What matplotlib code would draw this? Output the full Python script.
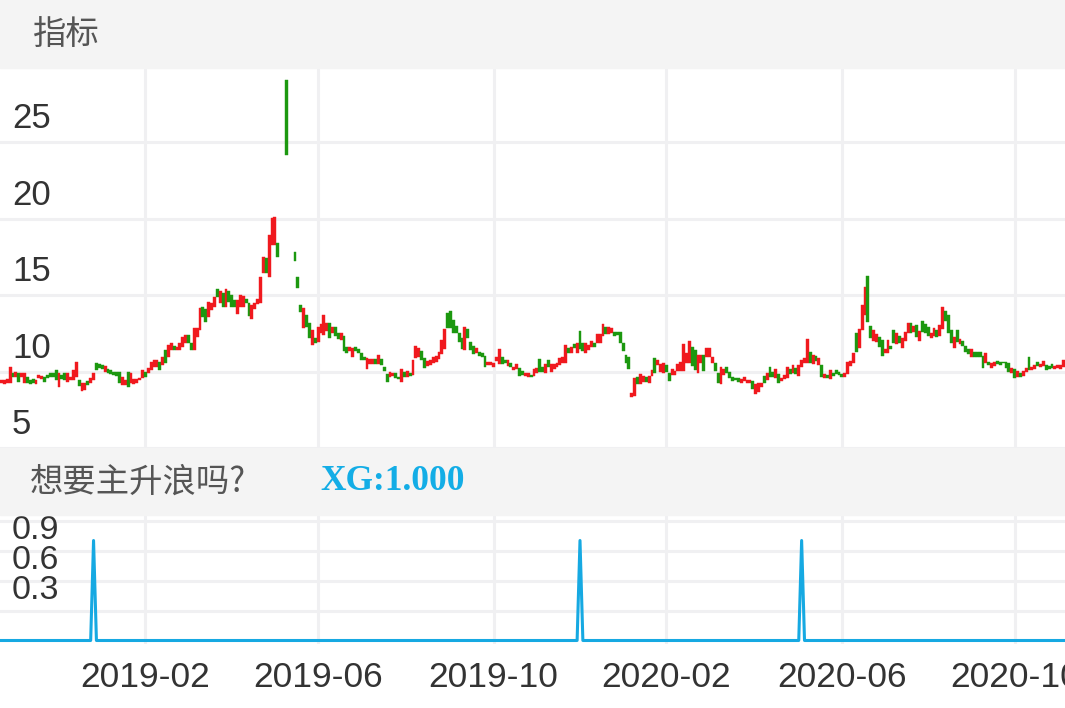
import numpy as np
import matplotlib
matplotlib.use("Agg")
import matplotlib.pyplot as plt
import matplotlib.transforms as mtransforms
from matplotlib.patches import Rectangle

# 日K线：开盘价 / 收盘价（None = 停牌）
opens = [
    9.23, 9.18, 9.23, 9.23, 9.92, 9.66, 9.88, 9.66, 9.27, 9.66,
    9.44, 9.49, 9.18, 9.55, 9.49, 9.66, 9.77, 9.88, 9.92, 10.10,
    9.01, 9.77, 9.88, 9.34, 9.44, 9.44, 9.66, 9.44, 8.75, 8.79,
    9.40, 9.23, 9.44, 10.53, 10.49, 10.42, 9.99, 10.14, 10.10, 9.99,
    9.99, 9.99, 9.12, 9.12, 9.99, 9.23, 9.18, 9.27, 9.44, 9.55,
    9.99, 9.88, 10.10, 10.32,
    10.28, 10.62, 10.42, 11.41, 10.95,
    11.41, 11.67, 11.41, 11.41, 11.62, 11.88, 12.39, 11.84, 11.41, 12.28,
    12.71, 14.19, 14.06, 13.54, 14.02, 14.24, 15.37, 14.46, 15.11, 14.24,
    15.24, 15.00, 14.67, 13.76, 14.24, 14.24, 14.72, 14.50, 13.41, 14.06,
    14.41, 14.50, 16.46, 17.40, 16.20, 18.27, 18.27, 18.38,
    None, None, 29.05, None, None,
    17.80, 16.18, 14.35, 12.82,
    13.69, 13.15, 11.73, 12.17, 11.95, 12.49, 12.39, 12.67, 13.15, 12.49,
    12.89, 12.49, 12.06, 12.32, 11.62, 11.36, 10.97, 11.58, 11.45, 11.19,
    10.97, 10.14, 10.49, 10.49, 10.80, 10.49, 10.80, 10.32, 9.84, 9.62,
    9.71, 9.88, 9.66, 9.34, 9.99, 9.62, 9.92, 9.77, 10.86, 10.93,
    11.36, 10.86, 10.36, 10.42, 10.53, 10.64, 10.80, 11.14, 11.45, 13.84,
    13.97, 13.37,
    12.97, 12.49, 12.17, 11.41, 12.76, 11.95, 11.67, 11.23, 11.30, 11.19,
    11.01, 10.42, 10.42, 10.32, 10.71, 10.49, 10.97, 10.75, 10.36, 10.53,
    10.10, 10.14, 10.21, 10.06, 9.71, 9.66, 9.80, 9.71, 9.92, 10.80,
    10.32, 9.92, 10.75, 9.99, 10.14, 10.27, 10.42, 10.58, 10.58, 11.51,
    11.23, 11.80, 11.23, 12.67, 11.88, 11.23, 11.41, 11.62, 11.88, 11.88,
    11.84, 12.32,
    12.93, 12.45, 12.54, 12.60, 12.60, 12.60, 11.84, 11.08, 10.93, 8.31,
    8.40, 9.62, 9.18, 9.34, 9.66, 9.27, 9.71, 10.86, 10.42, 9.99,
    9.88, 10.42, 9.88, 9.77, 9.77, 10.06, 10.06, 10.06, 10.58, 10.53,
    11.62, 11.40, 9.88, 10.53, 11.08, 10.93, 10.93, 10.58, 10.58, 9.88,
    9.18, 9.77, 10.27, 9.99, 9.62, 9.58, 9.55, 9.27, 9.40, 9.23,
    9.23, 9.40,
    8.53, 8.68, 9.01, 9.71, 9.44, 10.32, 9.99, 9.55, 9.84, 9.40,
    9.49, 9.55, 10.14, 9.88, 10.21, 9.71, 10.32, 10.53, 10.58, 11.30,
    10.49, 11.01, 10.42, 10.42, 9.55, 9.77, 9.49, 9.92, 10.10, 9.95,
    9.84, 9.66, 9.84, 10.36, 10.58, 12.49, 11.51, 12.71, 13.69, 16.24,
    12.97, 12.02, 11.95, 12.28, 12.06, 11.19, 11.19, 11.67, 12.71, 11.80,
    12.32, 11.51,
    12.02, 12.54, 13.15, 12.60, 13.04, 12.02, 13.32, 13.11, 12.89, 12.17,
    12.32, 12.71, 12.32, 12.76, 13.97, 13.69, 12.71, 11.51, 12.71, 11.80,
    12.02, 11.67, 11.45, 10.97, 11.30, 11.30, 11.30, 11.01, 10.53, 10.64,
    10.21, 10.36, 10.66, 10.60, 10.64, 10.64, 10.58, 9.88, 10.14, 9.62,
    9.92, 9.71, 9.99, 10.93, 10.10, 10.14, 10.64, 10.27, 10.36, 10.42,
    10.35, 10.49, 10.14, 10.21, 10.18, 10.32,
]
closes = [
    9.44, 9.44, 9.49, 10.27, 9.66, 9.99, 9.34, 9.88, 9.92, 9.23,
    9.18, 9.23, 9.44, 9.77, 9.70, 9.34, 9.55, 9.66, 9.66, 9.44,
    9.88, 9.49, 9.44, 9.92, 9.66, 10.10, 10.64, 9.05, 9.27, 9.23,
    9.12, 9.55, 9.88, 10.10, 10.21, 10.14, 10.36, 9.92, 9.84, 9.77,
    9.73, 9.23, 9.66, 9.44, 9.01, 9.88, 9.49, 9.49, 9.55, 10.10,
    9.66, 10.21, 10.64, 10.75,
    10.75, 10.10, 10.95, 10.55, 11.73,
    11.84, 11.41, 11.62, 11.88, 12.28, 12.39, 11.88, 11.41, 12.82, 12.82,
    14.13, 13.58, 13.26, 14.57, 14.50, 14.89, 14.85, 15.28, 14.19, 15.37,
    14.57, 14.24, 14.24, 14.67, 15.00, 14.94, 14.50, 13.63, 14.35, 14.46,
    14.72, 16.20, 17.46, 16.46, 18.92, 20.01, 20.12, 17.46,
    None, None, 24.15, None, None,
    17.20, 15.46, 13.90, 14.13,
    12.93, 12.17, 12.71, 11.84, 12.93, 13.11, 13.69, 13.19, 12.17, 12.89,
    12.32, 12.10, 12.49, 11.36, 11.23, 11.62, 11.51, 11.36, 11.19, 10.75,
    10.75, 10.86, 10.80, 10.80, 10.49, 11.08, 10.42, 10.06, 9.34, 9.99,
    9.92, 9.55, 9.49, 10.14, 9.66, 10.06, 9.71, 10.75, 11.67, 11.51,
    10.75, 10.21, 10.71, 10.75, 10.97, 11.01, 11.30, 12.06, 12.76, 12.82,
    12.82, 12.54,
    12.49, 11.95, 11.45, 12.89, 12.17, 11.41, 11.14, 11.51, 11.01, 10.93,
    10.27, 10.64, 10.64, 10.58, 10.93, 11.45, 10.49, 10.53, 10.75, 10.27,
    10.32, 10.49, 9.71, 9.77, 9.92, 9.92, 9.62, 10.14, 10.21, 9.99,
    9.99, 10.49, 10.27, 10.49, 10.49, 10.58, 10.86, 10.97, 11.73, 11.19,
    11.58, 11.51, 11.84, 11.45, 11.36, 11.84, 11.73, 12.02, 11.62, 12.45,
    12.45, 13.11,
    12.45, 12.93, 12.85, 12.32, 12.39, 11.84, 11.36, 10.58, 10.14, 8.62,
    9.55, 9.18, 9.84, 9.71, 9.34, 9.71, 10.10, 9.88, 10.75, 10.49,
    10.53, 9.99, 9.40, 10.14, 10.06, 10.49, 10.64, 11.80, 11.19, 12.01,
    10.36, 10.10, 11.08, 11.08, 10.06, 11.51, 11.51, 10.93, 10.06, 9.27,
    10.32, 10.14, 9.92, 9.55, 9.40, 9.45, 9.34, 9.49, 9.62, 9.44,
    9.44, 8.84,
    9.18, 9.23, 9.27, 9.23, 9.88, 9.62, 9.62, 10.14, 9.23, 9.55,
    9.77, 10.32, 9.84, 10.42, 9.84, 10.42, 10.75, 10.86, 12.10, 10.58,
    11.08, 10.71, 10.86, 9.66, 9.84, 9.55, 10.10, 9.71, 9.84, 9.75,
    9.66, 9.88, 10.64, 10.71, 11.23, 11.30, 12.76, 14.35, 15.50, 13.26,
    12.17, 12.71, 12.45, 11.62, 11.01, 11.45, 12.06, 11.45, 11.84, 12.49,
    11.84, 12.17,
    12.60, 13.19, 12.54, 12.97, 12.23, 12.67, 12.60, 12.54, 12.32, 12.54,
    12.82, 12.23, 13.04, 14.24, 13.32, 12.54, 11.84, 12.28, 11.95, 12.10,
    11.67, 11.30, 11.14, 11.45, 10.97, 10.93, 10.93, 10.21, 11.23, 10.42,
    10.58, 10.64, 10.49, 10.45, 10.53, 10.21, 9.99, 10.21, 9.55, 10.06,
    9.66, 10.06, 10.21, 10.10, 10.32, 10.42, 10.36, 10.49, 10.71, 10.10,
    10.15, 10.21, 10.36, 10.42, 10.40, 10.75,
]

# XG 信号出现的K线序号
xg_hits = [32, 201, 278]

tick_idx = [50, 110, 171, 231, 292, 352]
tick_labels = ['2019-02', '2019-06', '2019-10', '2020-02', '2020-06', '2020-10']
main_ticks = [5, 10, 15, 20, 25]
sub_ticks = [0.3, 0.6, 0.9, 1.2]
sub_labels = ['0.3', '0.6', '0.9', '']

RED, GREEN, BLUE = '#f0191e', '#1c980f', '#16a9e2'
GRID = '#f0f0f2'
W, H = 1065, 708

plt.rcParams['font.family'] = ['Liberation Sans', 'Noto Sans CJK SC']
fig = plt.figure(figsize=(W / 100, H / 100), dpi=100, facecolor='white')

# 灰色标题栏
for top, bot in [(0, 68), (448, 515)]:
    fig.patches.append(Rectangle((0, 1 - bot / H), 1, (bot - top) / H,
                                 transform=fig.transFigure, color='#f4f4f4', zorder=0))

cjk = ['Noto Sans CJK SC', 'DejaVu Sans']
fig.text(33 / W, 1 - 35 / H, '指标', fontsize=24, color='#555555', va='center', family=cjk)
fig.text(30 / W, 1 - 482 / H, '想要主升浪吗?', fontsize=24, color='#555555', va='center', family=cjk)
fig.text(320 / W, 1 - 482 / H, 'XG:1.000', fontsize=25.5, color='#13ade6', va='center',
         family='Liberation Serif', weight='bold')

o = np.array(opens, dtype=float)
c = np.array(closes, dtype=float)
n = len(o)
x = np.arange(n)
ok = ~np.isnan(o)

# 主图 K 线
ax = fig.add_axes([0, 1 - 448 / H, 1, 380 / H])
ax.set_xlim(-0.5, n - 0.5)
ax.set_ylim(5, 29.84)
body_lo = np.minimum(o, c)
body_h = np.maximum(np.abs(c - o), 0.08)
cols = np.where(c >= o, RED, GREEN)
ax.bar(x[ok], body_h[ok], bottom=body_lo[ok], width=1.0, color=cols[ok],
       edgecolor=cols[ok], linewidth=0.3, zorder=3)

ax.set_yticks(main_ticks)
ax.set_xticks(tick_idx)
ax.grid(True, color=GRID, lw=2.2)
ax.set_axisbelow(True)
ax.tick_params(length=0, labelleft=False, labelbottom=False)
for s in ax.spines.values():
    s.set_visible(False)
shift = mtransforms.ScaledTranslation(0, 0.235, fig.dpi_scale_trans)
for v in main_ticks:
    ax.text(12 / W, v, str(v), transform=ax.get_yaxis_transform() + shift,
            va='center', ha='left', fontsize=25, color='#333333')

# 副图 XG
xg = np.zeros(n)
xg[xg_hits] = 1
ax2 = fig.add_axes([0, 1 - 644 / H, 1, 129 / H])
ax2.set_xlim(-0.5, n - 0.5)
ax2.set_ylim(-0.035, 1.255)
ax2.plot(x, xg, color=BLUE, lw=2.2, clip_on=False, zorder=3)
ax2.set_yticks(sub_ticks)
ax2.set_xticks(tick_idx)
ax2.set_xticklabels(tick_labels)
ax2.grid(True, color=GRID, lw=2.2)
ax2.set_axisbelow(True)
ax2.tick_params(length=0, labelleft=False)
ax2.tick_params(axis='x', pad=12, labelsize=25.5, labelcolor='#333333')
for s in ax2.spines.values():
    s.set_visible(False)
shift2 = mtransforms.ScaledTranslation(0, 0.2, fig.dpi_scale_trans)
for v, lab in zip(sub_ticks, sub_labels):
    ax2.text(12 / W, v, lab, transform=ax2.get_yaxis_transform() + shift2,
             va='center', ha='left', fontsize=24.5, color='#333333')

fig.savefig('out.png', dpi=100, facecolor='white')
